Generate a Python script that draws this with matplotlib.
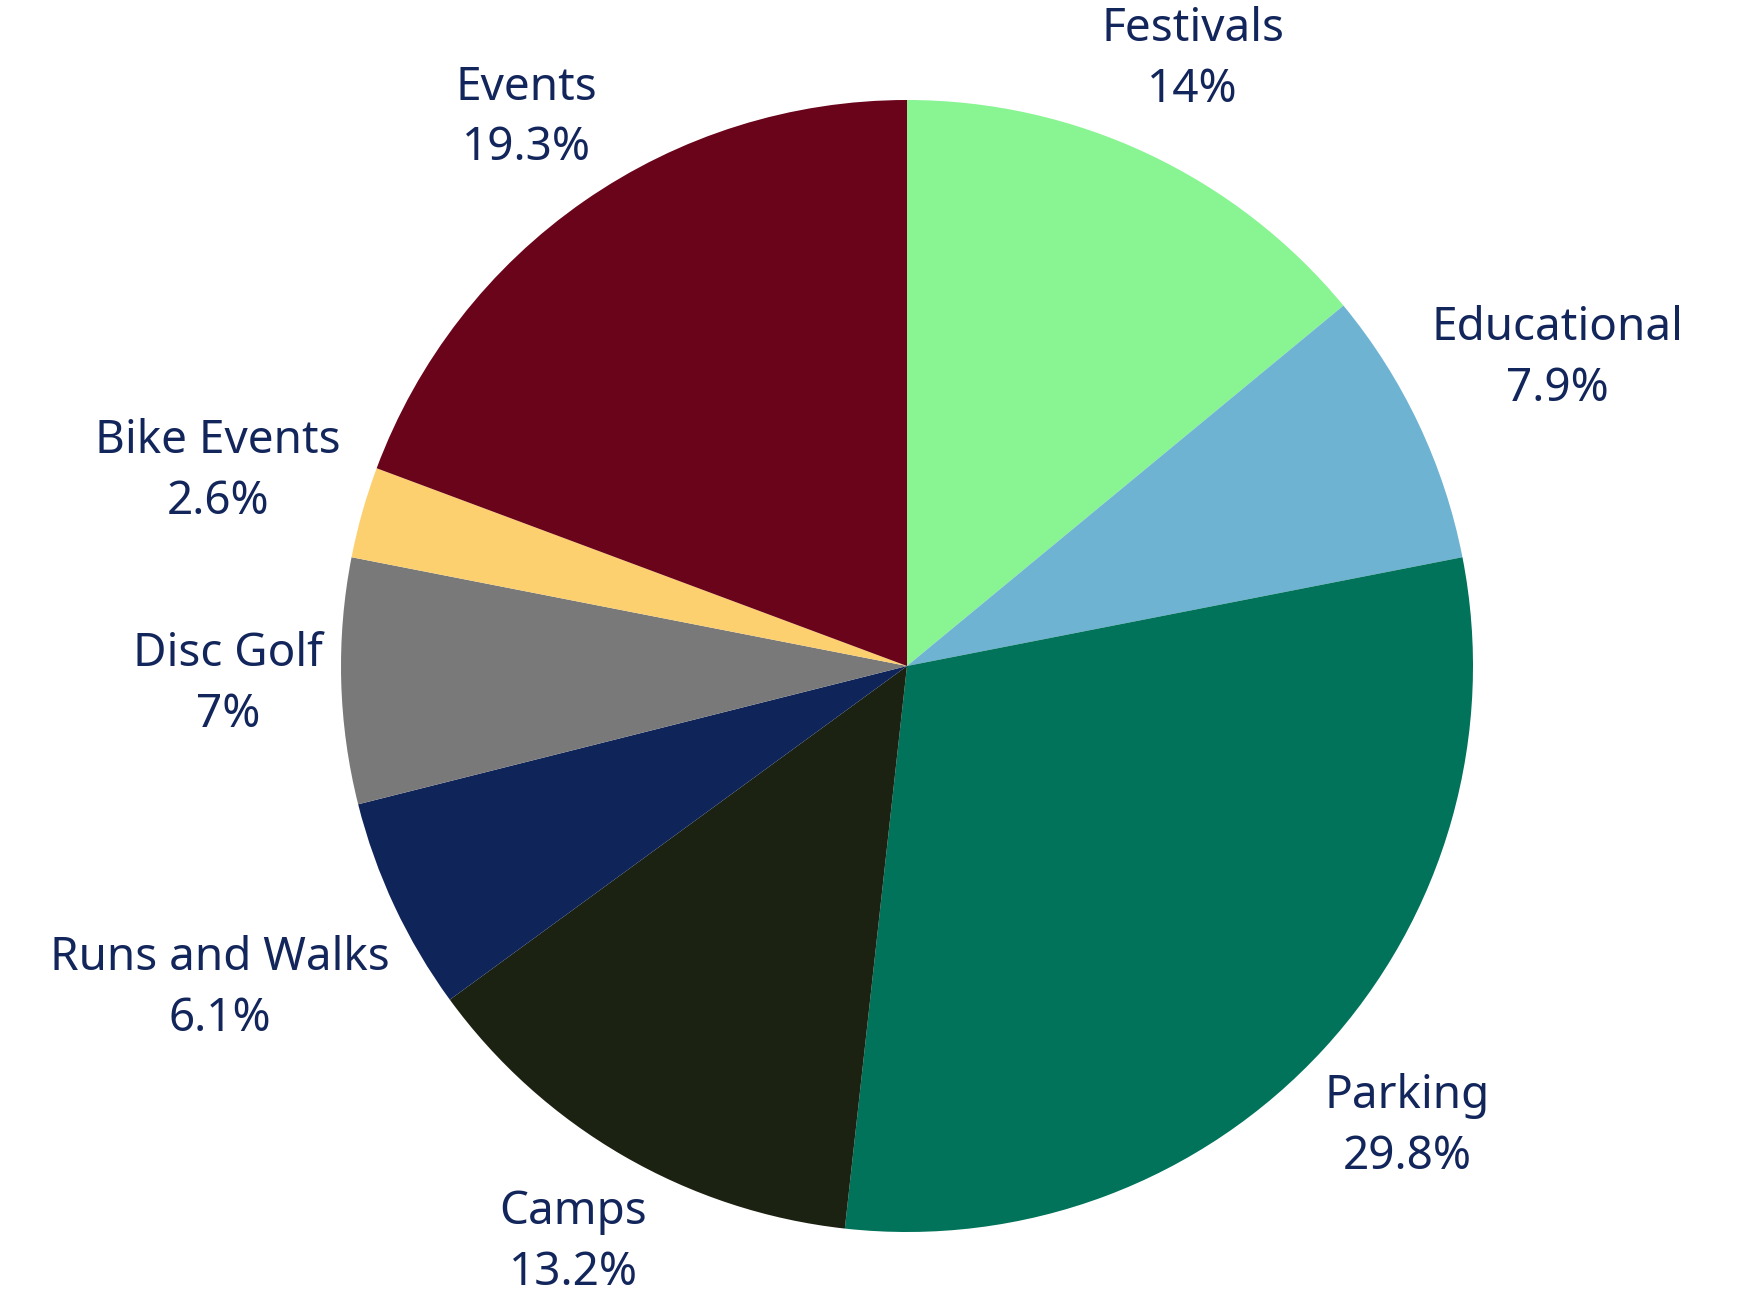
import numpy as np
import matplotlib
matplotlib.use("Agg")
import matplotlib.pyplot as plt

categories = ["Festivals", "Educational", "Parking", "Camps", "Runs and Walks",
              "Disc Golf", "Bike Events", "Events"]
values = [14, 7.9, 29.8, 13.2, 6.1, 7, 2.6, 19.3]
pct_labels = ["14%", "7.9%", "29.8%", "13.2%", "6.1%", "7%", "2.6%", "19.3%"]
colors = ["#88F492", "#6FB3D3", "#00735A", "#1C2211", "#0F2459",
          "#797979", "#FDD06F", "#6A041A"]

W, H = 1741, 1314
fig = plt.figure(figsize=(W / 100, H / 100), dpi=100)
ax = fig.add_axes([0, 0, 1, 1])
R_px = 566.0
cx, cy = 907.0, 666.0

wedges, _ = ax.pie(values, colors=colors, startangle=90, counterclock=False,
                   radius=1.0, wedgeprops=dict(linewidth=0))
ax.set_xlim(-cx / R_px, (W - cx) / R_px)
ax.set_ylim(-(H - cy) / R_px, cy / R_px)
ax.set_aspect("auto")
ax.axis("off")

txt_color = "#13265C"
texts = []
angles = []
for w, name, pct in zip(wedges, categories, pct_labels):
    a = np.deg2rad((w.theta1 + w.theta2) / 2)
    angles.append(a)
    t = ax.text(0, 0, f"{name}\n{pct}", ha="center", va="center",
                fontsize=33, color=txt_color,
                family=["Noto Sans", "DejaVu Sans"], linespacing=1.42)
    texts.append(t)

fig.canvas.draw()
renderer = fig.canvas.get_renderer()
gap = 1.03
for t, a in zip(texts, angles):
    bb = t.get_window_extent(renderer)
    hw = bb.width / 2 / R_px
    hh = bb.height / 2 / R_px
    d = gap + hw * abs(np.cos(a)) + hh * abs(np.sin(a))
    t.set_position((d * np.cos(a), d * np.sin(a)))

fig.savefig("out.png", dpi=100, facecolor="white")
